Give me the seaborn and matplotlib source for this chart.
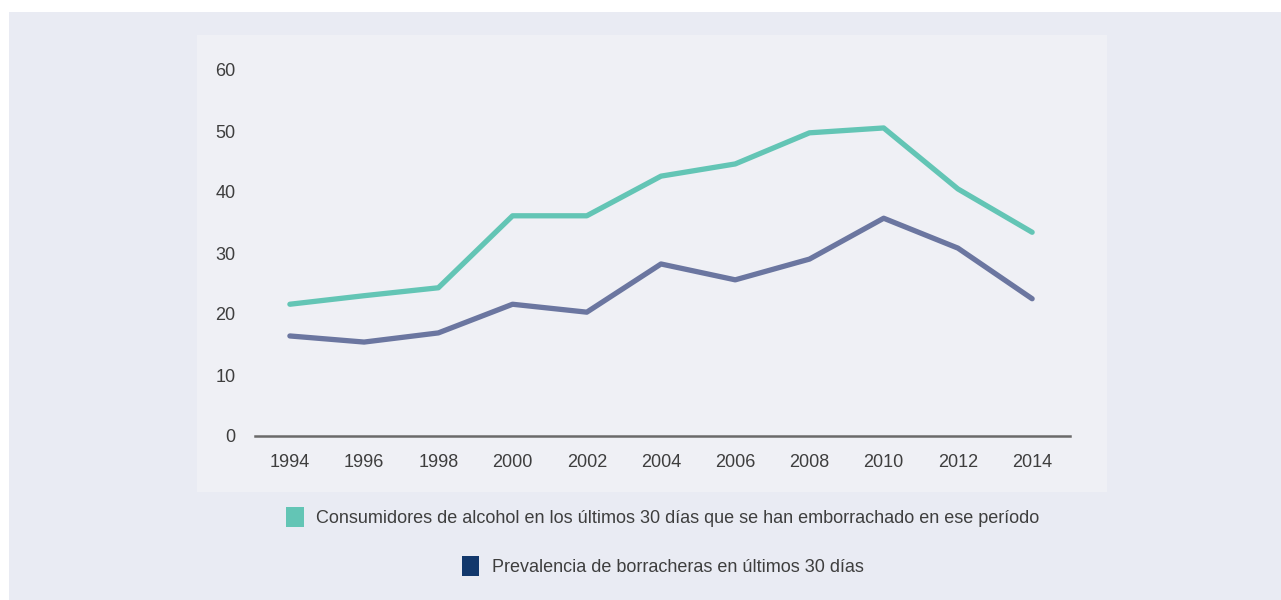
import matplotlib
matplotlib.use('Agg')
import matplotlib.pyplot as plt
import matplotlib.patches as mpatches
import seaborn as sns
import pandas as pd

# ── data ────────────────────────────────────────────────
years = [1994, 1996, 1998, 2000, 2002, 2004, 2006, 2008, 2010, 2012, 2014]
consumidores = [21.6, 23.0, 24.3, 36.1, 36.1, 42.6, 44.6, 49.7, 50.5, 40.5, 33.4]
prevalencia = [16.4, 15.4, 16.9, 21.6, 20.3, 28.2, 25.6, 29.0, 35.7, 30.8, 22.5]
y_ticks = [0, 10, 20, 30, 40, 50, 60]

label_cons = "Consumidores de alcohol en los últimos 30 días que se han emborrachado en ese período"
label_prev = "Prevalencia de borracheras en últimos 30 días"

teal = "#63c5b5"
purple = "#6b76a0"
navy = "#12386c"
text_col = "#3e3e3e"

df = pd.DataFrame({"year": years, "cons": consumidores, "prev": prevalencia})

sns.set_style("white")
plt.rcParams['font.family'] = ['Liberation Sans', 'DejaVu Sans']

fig = plt.figure(figsize=(12.81, 6), dpi=100)
fig.patch.set_facecolor("white")

# background panels
W, H = 1281, 600
fig.patches.append(mpatches.Rectangle((9 / W, 0), 1, 1 - 12 / H, transform=fig.transFigure,
                                      facecolor="#e9ebf3", edgecolor="none", zorder=-10))
fig.patches.append(mpatches.Rectangle((197 / W, 1 - 492 / H), (1107 - 197) / W, (492 - 35) / H,
                                      transform=fig.transFigure, facecolor="#eff0f5",
                                      edgecolor="none", zorder=-9))

ax = fig.add_axes([255 / W, 1 - 436 / H, (1070 - 255) / W, (436 - 70) / H])
ax.set_facecolor("none")
ax.set_zorder(2)

sns.lineplot(data=df, x="year", y="cons", ax=ax, color=teal, linewidth=3.8,
             solid_capstyle="round", solid_joinstyle="round")
sns.lineplot(data=df, x="year", y="prev", ax=ax, color=purple, linewidth=3.8,
             solid_capstyle="round", solid_joinstyle="round")

ax.set_xlim(1993.06, 2015.02)
ax.set_ylim(0, 60)
ax.set_xticks(years)
ax.set_yticks(y_ticks)
ax.set_xlabel("")
ax.set_ylabel("")
ax.tick_params(axis="both", length=0, labelsize=13, colors=text_col)
ax.tick_params(axis="x", pad=13)
ax.tick_params(axis="y", pad=14)
for side in ["top", "right", "left"]:
    ax.spines[side].set_visible(False)
ax.spines["bottom"].set_color("#6a6a6a")
ax.spines["bottom"].set_linewidth(1.8)
ax.spines["bottom"].set_clip_on(False)

# legends, one per row, centered
h1 = mpatches.Patch(facecolor=teal, edgecolor="none")
h2 = mpatches.Patch(facecolor=navy, edgecolor="none")
fig.legend([h1], [label_cons], loc="center", bbox_to_anchor=(663 / W, 1 - 517 / H),
           frameon=False, fontsize=13, handlelength=0.95, handleheight=1.35,
           handletextpad=0.7, labelcolor=text_col)
fig.legend([h2], [label_prev], loc="center", bbox_to_anchor=(663 / W, 1 - 566 / H),
           frameon=False, fontsize=13, handlelength=0.95, handleheight=1.35,
           handletextpad=0.7, labelcolor=text_col)

fig.savefig("out.png", dpi=100, facecolor=fig.get_facecolor())
